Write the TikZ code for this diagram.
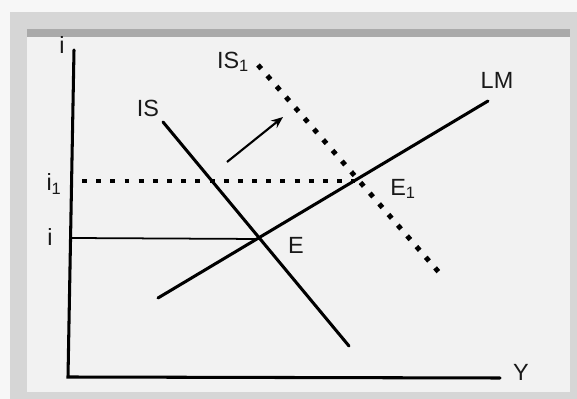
\documentclass[tikz,border=0pt]{standalone}
\usepackage{fontspec}
\setmainfont{Liberation Sans}
\usetikzlibrary{arrows.meta, positioning}
\definecolor{panelgray}{RGB}{242,242,242}
\definecolor{framegray}{RGB}{214,214,214}
\definecolor{rimgray}{RGB}{170,170,170}
\definecolor{pagegray}{RGB}{247,247,247}

\begin{document}
\begin{tikzpicture}[x=0.03cm, y=-0.03cm,
  curve/.style={line width=2.6pt, line cap=round},
  thin curve/.style={line width=1.5pt},
  dotline/.style={line width=4.2pt, dash pattern=on 4.2pt off 7.9pt},
  lbl/.style={font=\fontsize{20}{22}\selectfont, inner sep=0pt, text=black!90},
  arr/.style={-{Stealth[length=10pt, width=8pt]}, line width=1.8pt}
]
% frame
\fill[pagegray] (0,0) rectangle (577,399);
\fill[framegray] (10,12) rectangle (577,399);
\fill[rimgray] (27,29) rectangle (570,37);
\fill[panelgray] (27,37) rectangle (570,392);
\useasboundingbox (0,0) rectangle (577,399);

% axes
\coordinate (top)    at (74,50);
\coordinate (origin) at (68,377);
\coordinate (yend)   at (500,378);
\draw[curve] (top) -- (origin) -- (yend);
\node[lbl] (ilabel) at (62,45)  {i};
\node[lbl] (ylabel) at (521,372) {Y};

% equilibria
\coordinate (E)  at (260,239);
\coordinate (E1) at (355,181);

% LM curve
\coordinate (lmlo) at (158,298);
\coordinate (lmhi) at (488,101);
\draw[curve] (lmlo) -- (lmhi);
\node[lbl] (lm) at (497,80) {LM};

% IS curves
\coordinate (islo) at (349,346);
\coordinate (ishi) at (163,122);
\draw[curve] (ishi) -- (islo);
\node[lbl] (is) at (148,108) {IS};
\coordinate (is1hi) at (258,65);
\coordinate (is1lo) at (443,277);
\draw[dotline] (is1hi) -- (is1lo);
\node[lbl] (is1) at (233,62) {IS\textsubscript{1}};

% interest rates
\coordinate (istart)  at (72,238);
\coordinate (i1start) at (82,181);
\draw[thin curve] (istart) -- (E);
\draw[dotline] (i1start) -- (E1);
\node[lbl] (i0)  at (50,237) {i};
\node[lbl] (i1)  at (54,184) {i\textsubscript{1}};
\node[lbl] (elabel)  at (296,245) {E};
\node[lbl] (e1label) at (403,189) {E\textsubscript{1}};

% shift
\coordinate (shiftfrom) at (227,162);
\coordinate (shiftto)   at (283,117);
\draw[arr] (shiftfrom) -- (shiftto);
\end{tikzpicture}
\end{document}
